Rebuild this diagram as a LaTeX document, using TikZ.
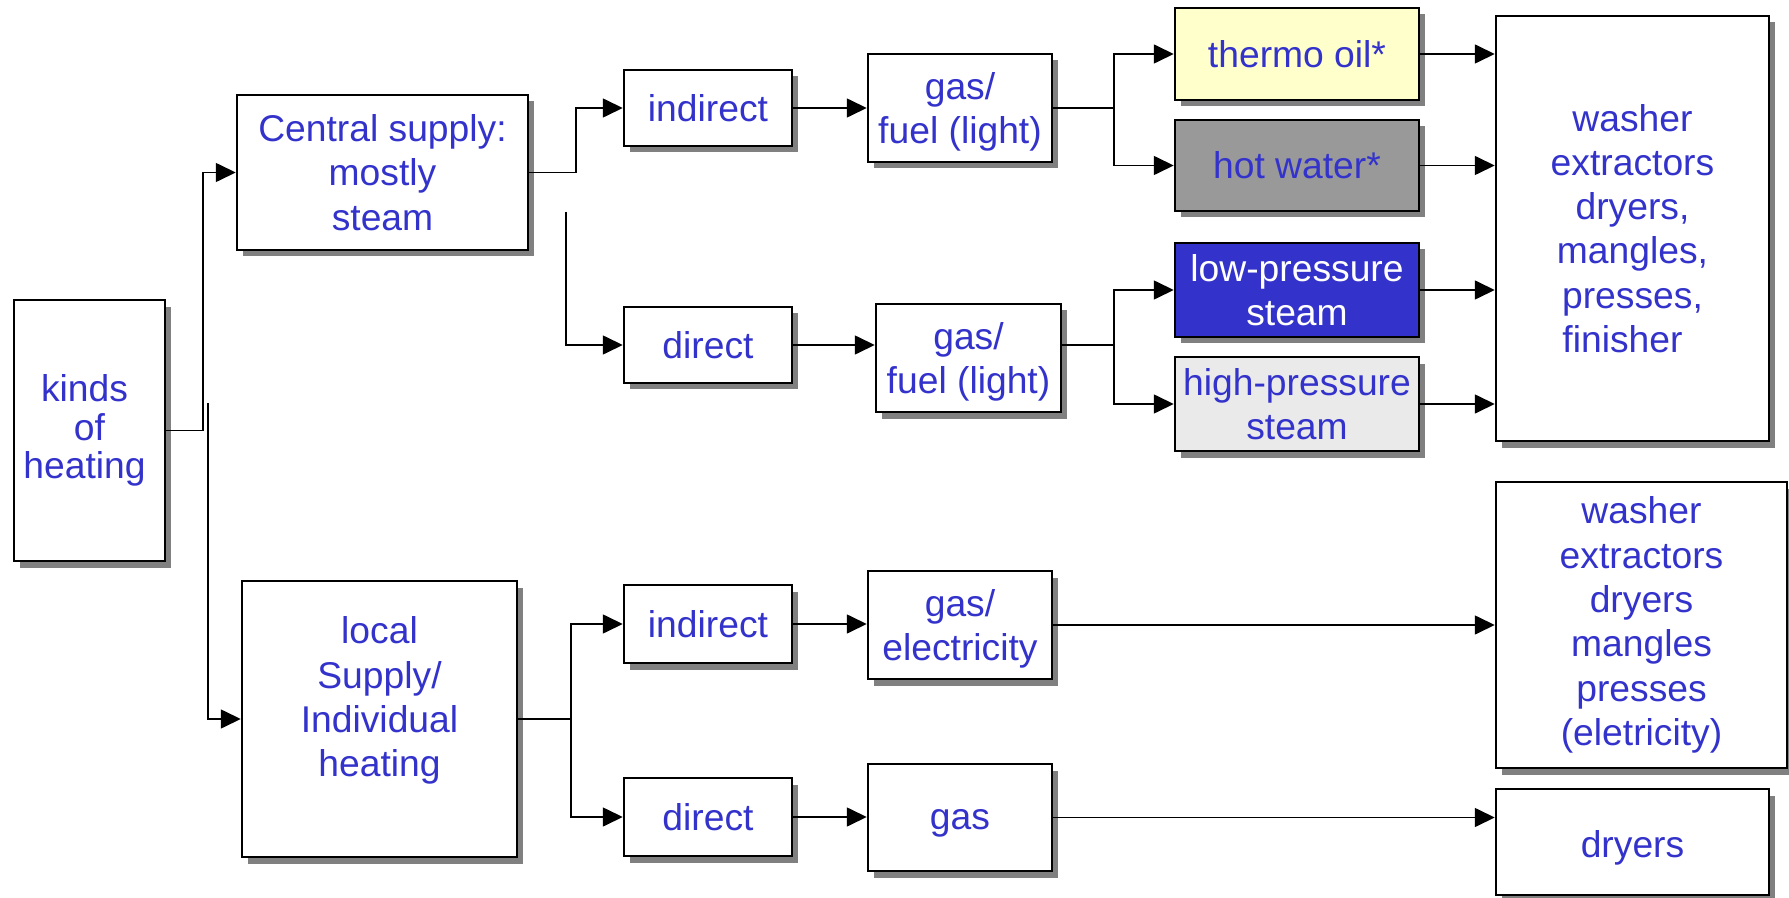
\documentclass[tikz,border=0pt]{standalone}
\usepackage{fontspec}
\setmainfont{Liberation Sans}
\usepackage{tikz}
\usetikzlibrary{arrows.meta}
\usetikzlibrary{positioning}
\usetikzlibrary{shadows}
\usetikzlibrary{calc}

\definecolor{txtblue}{RGB}{51,51,204}
\definecolor{oilyellow}{RGB}{255,255,204}
\definecolor{watergray}{RGB}{153,153,153}
\definecolor{steamlight}{RGB}{234,234,234}
\definecolor{shadowgray}{RGB}{128,128,128}

\begin{document}
\begin{tikzpicture}[
  box/.style={draw,line width=0.7pt,fill=white,text=txtblue,align=center,inner sep=1pt,
    font=\fontsize{10.6}{12.6}\selectfont,
    drop shadow={shadow xshift=0.055cm,shadow yshift=-0.065cm,fill=shadowgray,opacity=1}},
  link/.style={line width=0.45pt,-{Triangle[length=0.2cm,width=0.19cm]}}
]
\useasboundingbox (0,0) rectangle (17.89,8.97);

% first column
\node[box,font=\fontsize{10.6}{11}\selectfont,minimum width=1.51cm,minimum height=2.61cm] (kinds) at (0.895,4.665) {kinds\hspace*{0.1cm}\\of\hspace*{0.1cm}\\heating\hspace*{0.1cm}};

% supply
\node[box,minimum width=2.91cm,minimum height=1.55cm] (central) at (3.825,7.245) {Central supply:\\mostly\\steam};
\node[box,minimum width=2.75cm,minimum height=2.76cm] (local) at (3.795,1.78) {local\\Supply/\\Individual\\heating\\\mbox{}};

% indirect / direct
\node[box,minimum width=1.68cm,minimum height=0.76cm] (indirect1) at (7.08,7.89) {indirect};
\node[box,minimum width=1.68cm,minimum height=0.76cm] (direct1) at (7.08,5.52) {direct};
\node[box,minimum width=1.68cm,minimum height=0.78cm] (indirect2) at (7.08,2.73) {indirect};
\node[box,minimum width=1.68cm,minimum height=0.78cm] (direct2) at (7.08,0.80) {direct};

% energy
\node[box,text depth=0pt,minimum width=1.84cm,minimum height=1.08cm] (gas1) at (9.60,7.89) {gas/\\fuel (light)};
\node[box,text depth=0pt,minimum width=1.85cm,minimum height=1.08cm] (gas2) at (9.685,5.39) {gas/\\fuel (light)};
\node[box,text depth=0pt,minimum width=1.84cm,minimum height=1.08cm] (gaselec) at (9.60,2.72) {gas/\\electricity};
\node[box,text height=0.905em,minimum width=1.84cm,minimum height=1.07cm] (gas3) at (9.60,0.795) {gas};

% carrier
\node[box,fill=oilyellow,minimum width=2.44cm,minimum height=0.92cm] (thermo) at (12.97,8.43) {thermo oil*};
\node[box,fill=watergray,minimum width=2.44cm,minimum height=0.91cm] (hotwater) at (12.97,7.315) {hot water*};
\node[box,fill=txtblue,text=white,minimum width=2.44cm,minimum height=0.94cm] (lowp) at (12.97,6.07) {low-pressure\\steam};
\node[box,fill=steamlight,minimum width=2.44cm,minimum height=0.94cm] (highp) at (12.97,4.93) {high-pressure\\steam};

% machines
\node[box,minimum width=2.73cm,minimum height=4.25cm] (washer1) at (16.325,6.685) {washer\\extractors\\dryers,\\mangles,\\presses,\\finisher\hspace*{0.2cm}};
\node[box,minimum width=2.91cm,minimum height=2.86cm] (washer2) at (16.415,2.72) {washer\\extractors\\dryers\\mangles\\presses\\(eletricity)};
\node[box,text height=1.1em,minimum width=2.73cm,minimum height=1.06cm] (dryers) at (16.325,0.55) {dryers};

% connectors
\coordinate (split1) at (2.08,4.94);
\coordinate (split2) at (5.66,6.85);

\draw[link] (kinds.east) -- ++(0.37,0) |- (central.west);
\draw[link] (split1) |- (local.west);

\draw[link] (central.east) -- ++(0.47,0) |- (indirect1.west);
\draw[link] (split2) |- (direct1.west);
\draw[link] (local.east) -- ++(0.53,0) |- (indirect2.west);
\draw[link] (local.east) -- ++(0.53,0) |- (direct2.west);

\draw[link] (indirect1.east) -- (indirect1.east -| gas1.west);
\draw[link] (direct1.east) -- (direct1.east -| gas2.west);
\draw[link] (indirect2.east) -- (indirect2.east -| gaselec.west);
\draw[link] (direct2.east) -- (direct2.east -| gas3.west);

\draw[link] (gas1.east) -- ++(0.61,0) |- (thermo.west);
\draw[link] (gas1.east) -- ++(0.61,0) |- (hotwater.west);
\draw[link] (direct1.east -| gas2.east) -- ++(0.52,0) |- (lowp.west);
\draw[link] (direct1.east -| gas2.east) -- ++(0.52,0) |- (highp.west);

\draw[link] (thermo.east) -- (thermo.east -| washer1.west);
\draw[link] (hotwater.east) -- (hotwater.east -| washer1.west);
\draw[link] (lowp.east) -- (lowp.east -| washer1.west);
\draw[link] (highp.east) -- (highp.east -| washer1.west);
\draw[link] (gaselec.east) -- (gaselec.east -| washer2.west);
\draw[link] (gas3.east) -- (gas3.east -| dryers.west);

\end{tikzpicture}
\end{document}
